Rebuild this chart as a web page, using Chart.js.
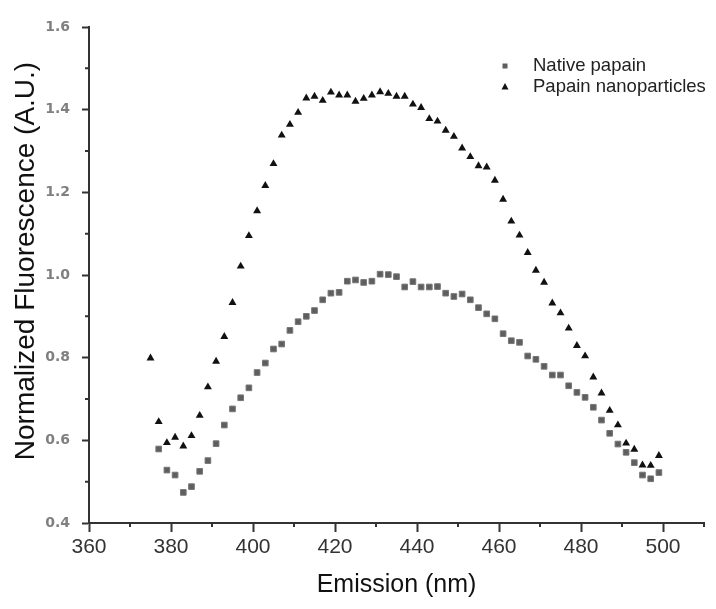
<!DOCTYPE html>
<html>
<head>
<meta charset="utf-8">
<script src="https://cdn.jsdelivr.net/npm/chart.js@4.4.1/dist/chart.umd.min.js"></script>
<style>
  body { margin: 0; background: #fff; }
  #box { width: 716px; height: 609px; }
</style>
</head>
<body>
<div id="box"><canvas id="grafico" width="716" height="609"></canvas></div>
<script>
// comprimentos de onda (nm)
var comprimentos = [375, 377, 379, 381, 383, 385, 387, 389, 391, 393, 395, 397, 399,
    401, 403, 405, 407, 409, 411, 413, 415, 417, 419, 421, 423, 425, 427, 429, 431, 433,
    435, 437, 439, 441, 443, 445, 447, 449, 451, 453, 455, 457, 459, 461, 463, 465, 467,
    469, 471, 473, 475, 477, 479, 481, 483, 485, 487, 489, 491, 493, 495, 497, 499]

// native papain (sem ponto em 375)
var nativa = [null, 0.579, 0.528, 0.516, 0.474, 0.488, 0.525, 0.551, 0.592, 0.637, 0.676, 0.703, 0.727,
    0.764, 0.787, 0.821, 0.833, 0.866, 0.887, 0.900, 0.914, 0.940, 0.956, 0.958, 0.985, 0.988,
    0.982, 0.985, 1.002, 1.001, 0.996, 0.971, 0.984, 0.971, 0.971, 0.972, 0.956, 0.948,
    0.954, 0.940, 0.921, 0.906, 0.894, 0.858, 0.841, 0.837, 0.804, 0.796, 0.779, 0.758, 0.758,
    0.732, 0.716, 0.704, 0.680, 0.649, 0.617, 0.591, 0.571, 0.546, 0.516, 0.507, 0.522]

// papain nanoparticles
var nano = [0.799, 0.645, 0.594, 0.607, 0.586, 0.611, 0.660, 0.729, 0.791, 0.851, 0.933, 1.021, 1.095,
    1.155, 1.216, 1.269, 1.338, 1.364, 1.393, 1.428, 1.432, 1.422, 1.442, 1.435, 1.435, 1.420,
    1.427, 1.435, 1.443, 1.439, 1.432, 1.432, 1.413, 1.405, 1.378, 1.372, 1.350, 1.335,
    1.307, 1.286, 1.264, 1.261, 1.229, 1.183, 1.130, 1.096, 1.054, 1.011, 0.982, 0.932, 0.908,
    0.871, 0.829, 0.804, 0.753, 0.714, 0.672, 0.637, 0.593, 0.578, 0.540, 0.539, 0.563]

var nomes = ['Native papain', 'Papain nanoparticles']
var tituloY = 'Normalized Fluorescence (A.U.)'

// ticks dos eixos
var ticksX = [360, 380, 400, 420, 440, 460, 480, 500]
var minorX = [370, 390, 410, 430, 450, 470, 490, 510]
var ticksY = [0.4, 0.6, 0.8, 1.0, 1.2, 1.4, 1.6]
var minorY = [0.5, 0.7, 0.9, 1.1, 1.3, 1.5]

function pontos(valores) {
    var lista = []
    for (let i = 0; i < comprimentos.length; i++) {
        if (valores[i] != null) {
            lista.push({ x: comprimentos[i], y: valores[i] })
        }
    }
    return lista
}

// ticks menores, titulo do eixo y e legenda
var extras = {
    id: 'extras',
    afterDraw: function (chart) {
        var ctx = chart.ctx
        var sx = chart.scales.x
        var sy = chart.scales.y
        var area = chart.chartArea

        ctx.save()
        ctx.strokeStyle = '#333'
        ctx.lineWidth = 2
        ctx.beginPath()
        for (let i = 0; i < minorX.length; i++) {
            var px = sx.getPixelForValue(minorX[i])
            ctx.moveTo(px, area.bottom)
            ctx.lineTo(px, area.bottom + 4)
        }
        for (let i = 0; i < minorY.length; i++) {
            var py = sy.getPixelForValue(minorY[i])
            ctx.moveTo(area.left, py)
            ctx.lineTo(area.left - 4, py)
        }
        ctx.stroke()

        // titulo do eixo y
        ctx.save()
        ctx.translate(26, 261)
        ctx.rotate(-Math.PI / 2)
        ctx.font = '28px "Liberation Sans", Arial, sans-serif'
        ctx.fillStyle = '#111'
        ctx.textAlign = 'center'
        ctx.textBaseline = 'middle'
        ctx.fillText(tituloY, 0, 0)
        ctx.restore()

        // legenda
        var lx = 505
        var ly = [66, 87]
        ctx.fillStyle = '#5e5e5e'
        ctx.fillRect(lx - 2.5, ly[0] - 2.5, 5, 5)
        ctx.fillStyle = '#111'
        ctx.beginPath()
        ctx.moveTo(lx, ly[1] - 4)
        ctx.lineTo(lx + 3.5, ly[1] + 2.5)
        ctx.lineTo(lx - 3.5, ly[1] + 2.5)
        ctx.closePath()
        ctx.fill()

        ctx.font = '18.5px "Liberation Sans", Arial, sans-serif'
        ctx.fillStyle = '#222'
        ctx.textBaseline = 'middle'
        ctx.textAlign = 'left'
        ctx.fillText(nomes[0], 533, ly[0])
        ctx.fillText(nomes[1], 533, ly[1])
        ctx.restore()
    }
}

var config = {
    type: 'scatter',
    data: {
        datasets: [
            {
                label: nomes[0],
                data: pontos(nativa),
                pointStyle: 'rect',
                pointRadius: 4,
                backgroundColor: '#5e5e5e',
                borderColor: '#777',
                borderWidth: 1
            },
            {
                label: nomes[1],
                data: pontos(nano),
                pointStyle: 'triangle',
                pointRadius: 4.6,
                backgroundColor: '#111',
                borderColor: '#111',
                borderWidth: 0
            }
        ]
    },
    options: {
        responsive: false,
        animation: false,
        devicePixelRatio: 1,
        events: [],
        layout: { padding: { top: 27, right: 12, left: 0, bottom: 0 } },
        plugins: {
            legend: { display: false },
            tooltip: { enabled: false }
        },
        scales: {
            x: {
                type: 'linear',
                min: 360,
                max: 510,
                afterFit: function (scale) { scale.height = 86 },
                afterBuildTicks: function (scale) {
                    scale.ticks = ticksX.map(function (v) { return { value: v } })
                },
                border: { display: true, color: '#333', width: 2 },
                grid: { drawOnChartArea: false, drawTicks: true, tickLength: 9, tickColor: '#333', tickWidth: 2 },
                ticks: {
                    padding: 3,
                    maxRotation: 0,
                    autoSkip: false,
                    color: '#333',
                    font: { family: '"Liberation Sans", Arial, sans-serif', size: 21 }
                },
                title: {
                    display: true,
                    text: 'Emission (nm)',
                    color: '#111',
                    padding: { top: 0, bottom: 9 },
                    font: { family: '"Liberation Sans", Arial, sans-serif', size: 25 }
                }
            },
            y: {
                type: 'linear',
                min: 0.4,
                max: 1.6,
                afterFit: function (scale) { scale.width = 89 },
                afterBuildTicks: function (scale) {
                    scale.ticks = ticksY.map(function (v) { return { value: v } })
                },
                border: { display: true, color: '#333', width: 2 },
                grid: { drawOnChartArea: false, drawTicks: true, tickLength: 7, tickColor: '#333', tickWidth: 2 },
                ticks: {
                    padding: 12,
                    color: '#808080',
                    font: { family: '"DejaVu Sans", sans-serif', size: 14, weight: 'bold' },
                    callback: function (v) { return Number(v).toFixed(1) }
                },
                title: { display: false }
            }
        }
    },
    plugins: [extras]
}

var myChart = new Chart(document.getElementById('grafico'), config)
</script>
</body>
</html>
